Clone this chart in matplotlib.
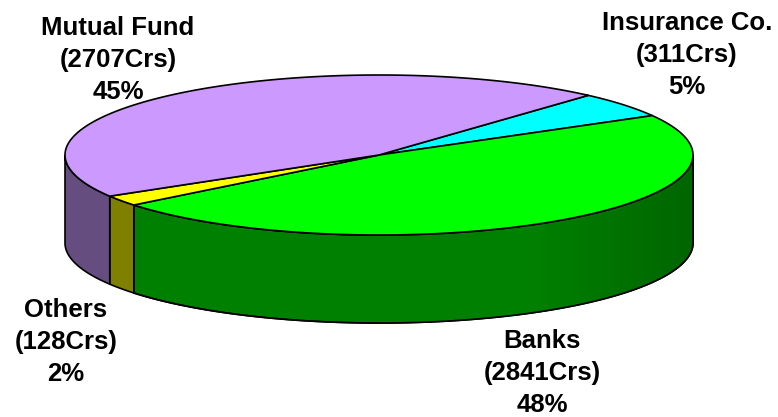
import numpy as np
import matplotlib
matplotlib.use('Agg')
import matplotlib.pyplot as plt
from matplotlib.colors import LinearSegmentedColormap
from matplotlib.patches import Polygon

plt.rcParams['font.family'] = ['Liberation Sans', 'DejaVu Sans']

# holdings in crores, clockwise from the first slice
names = ['Insurance Co.', 'Banks', 'Others', 'Mutual Fund']
crores = [311, 2841, 128, 2707]
percents = [5, 48, 2, 45]
top_colors = ['#00ffff', '#00ff00', '#ffff00', '#cc99ff']
side_colors = ['#008080', '#008000', '#808000', '#664d80']

W, H = 778, 417
cx, cy = 379, 155
rx, ry = 314, 80
depth = 88
start_angle = 48.2


def rim(a0, a1, drop=0):
    t = np.radians(np.linspace(a0, a1, max(int(abs(a1 - a0) * 2), 2)))
    return np.column_stack([cx + rx * np.cos(t), cy - ry * np.sin(t) + drop])


fig = plt.figure(figsize=(W / 100, H / 100), dpi=100)
ax = fig.add_axes([0, 0, 1, 1])

sweeps = np.array(crores) / np.sum(crores) * 360
ends = start_angle - np.cumsum(sweeps)
starts = ends + sweeps

# side walls first, only the front half of the rim shows
for a0, a1, col in zip(starts, ends, side_colors):
    lo, hi = max(a1, -180), min(a0, 0)
    if lo >= hi:
        continue
    wall = np.vstack([rim(hi, lo), rim(lo, hi, depth)])
    patch = Polygon(wall, closed=True, fc=col, ec='black', lw=1.2, zorder=2)
    ax.add_patch(patch)
    # banks wall gets darker towards the right edge
    if col == '#008000':
        shade = LinearSegmentedColormap.from_list('shade', ['#008000', '#008000', '#006600'])
        im = ax.imshow(np.linspace(0, 1, 256)[None, :], cmap=shade, aspect='auto',
                       extent=(cx, cx + rx, cy + ry + depth, cy), zorder=2.1)
        im.set_clip_path(patch)
        edge = Polygon(wall, closed=True, fc='none', ec='black', lw=1.2, zorder=2.2)
        ax.add_patch(edge)

for a0, a1, col in zip(starts, ends, top_colors):
    pts = np.vstack([[cx, cy], rim(a0, a1)])
    ax.add_patch(Polygon(pts, closed=True, fc=col, ec='black', lw=1.2, zorder=3))

ax.set_xlim(0, W)
ax.set_ylim(H, 0)
ax.axis('off')

label_pos = [(687, 55), (542, 373), (66, 342), (118, 60)]
for name, cr, pc, (x, y) in zip(names, crores, percents, label_pos):
    ax.text(x, y, f'{name}\n({cr}Crs)\n{pc}%', ha='center', va='center', fontsize=18.5,
            fontweight='bold', color='black', linespacing=1.4)

fig.savefig('out.png', dpi=100)
